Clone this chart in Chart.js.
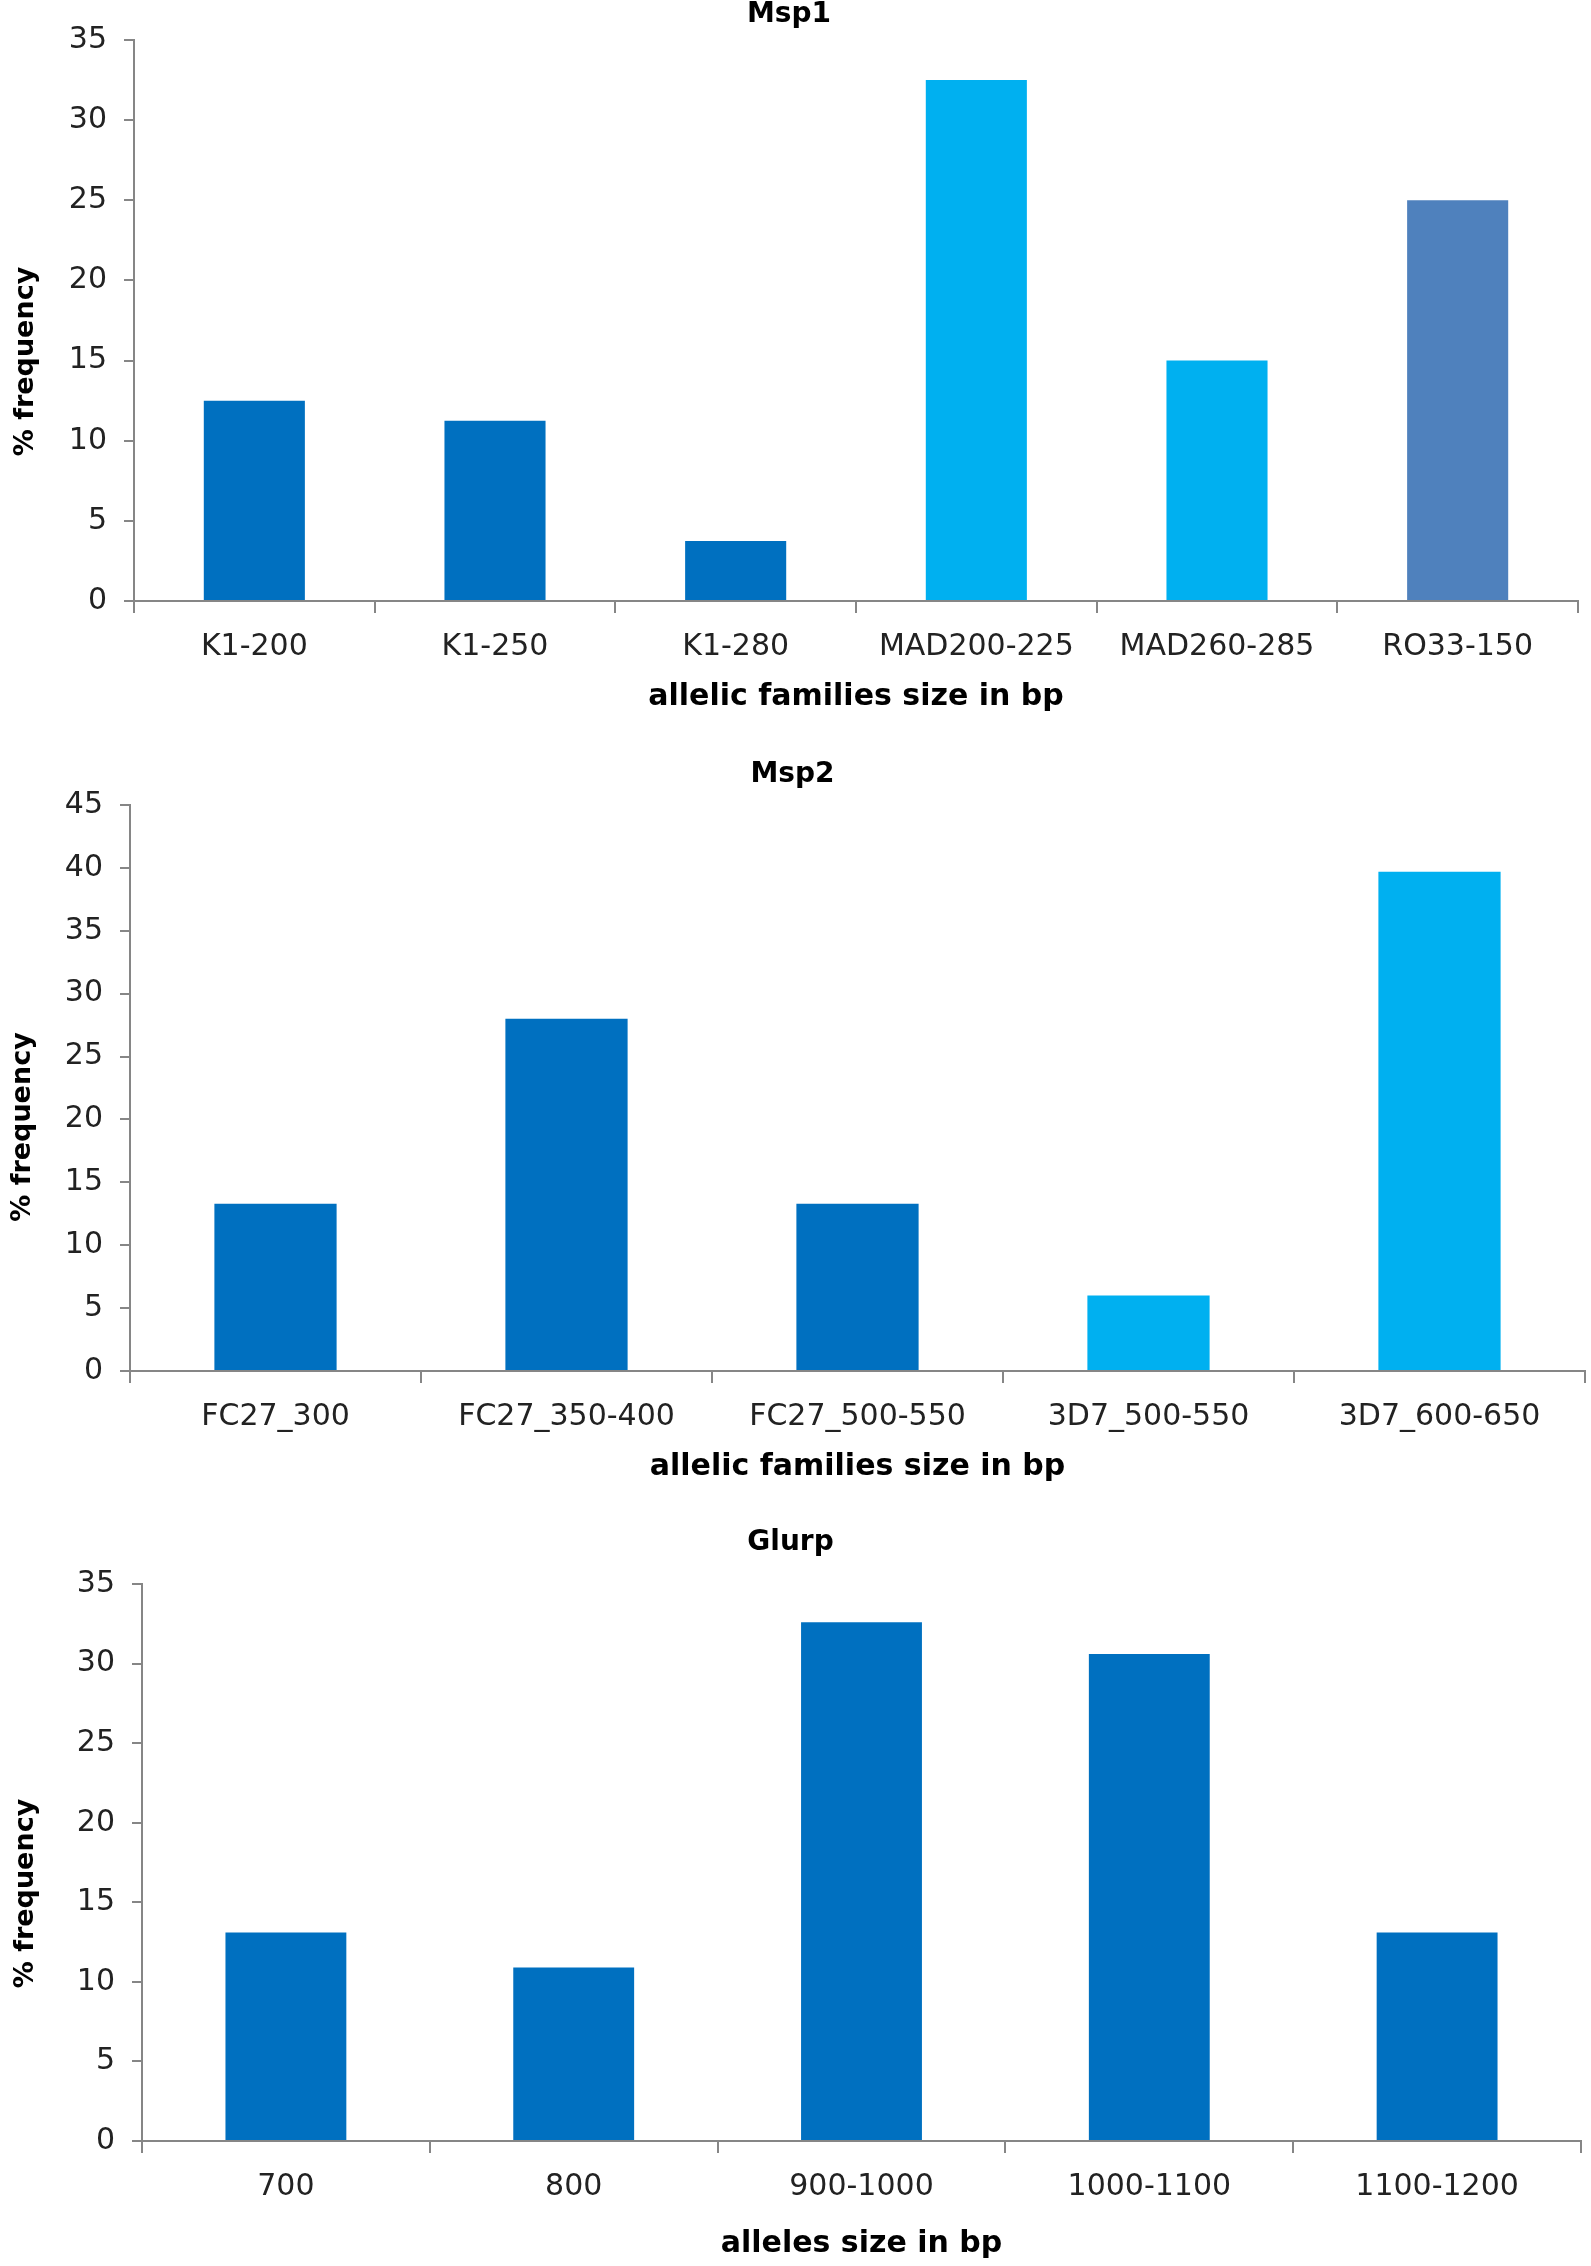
<!DOCTYPE html>
<html>
<head>
<meta charset="utf-8">
<script src="https://cdn.jsdelivr.net/npm/chart.js@4/dist/chart.umd.min.js"></script>
<style>
  html, body { margin: 0; padding: 0; background: #fff; }
  body { width: 1591px; height: 2266px; position: relative; overflow: hidden; }
  canvas { position: absolute; left: 0; }
</style>
</head>
<body>
<canvas id="msp1" width="1591" height="733" style="top:-2px"></canvas>
<canvas id="msp2" width="1591" height="743" style="top:758px"></canvas>
<canvas id="glurp" width="1591" height="740" style="top:1526px"></canvas>
<script>
const msp1Labels = ['K1-200', 'K1-250', 'K1-280', 'MAD200-225', 'MAD260-285', 'RO33-150'];
const msp1Values = [12.5, 11.25, 3.75, 32.5, 15, 25];

const msp2Labels = ['FC27_300', 'FC27_350-400', 'FC27_500-550', '3D7_500-550', '3D7_600-650'];
const msp2Values = [13.3, 28, 13.3, 6, 39.7];

const glurpLabels = ['700', '800', '900-1000', '1000-1100', '1100-1200'];
const glurpValues = [13.1, 10.9, 32.6, 30.6, 13.1];

// bar colours (K1 / FC27 dark, MAD / 3D7 light, RO33 steel)
const dark = '#0070C0', light = '#00B0F0', steel = '#4F81BD';
const msp1Colors = [dark, dark, dark, light, light, steel];
const msp2Colors = [dark, dark, dark, light, light];
const glurpColors = [dark, dark, dark, dark, dark];

const axisGray = '#868686';
const font = 'DejaVu Sans';

// y axis title, drawn a bit below the middle of the plot like the original
const yTitlePlugin = {
    id: 'yTitle',
    afterDraw(chart, args, opts) {
        const ctx = chart.ctx;
        const a = chart.chartArea;
        ctx.save();
        ctx.translate(opts.x, (a.top + a.bottom) / 2 + opts.shift);
        ctx.rotate(-Math.PI / 2);
        ctx.font = 'bold 27px "' + font + '"';
        ctx.fillStyle = '#000';
        ctx.textAlign = 'center';
        ctx.textBaseline = 'middle';
        ctx.fillText('% frequency', 0, 0);
        ctx.restore();
    }
};

function makeChart(id, o) {
    return new Chart(document.getElementById(id), {
        type: 'bar',
        data: {
            labels: o.labels,
            datasets: [{
                data: o.values,
                backgroundColor: o.colors,
                borderWidth: 0,
                barPercentage: 0.42,
                categoryPercentage: 1
            }]
        },
        plugins: [yTitlePlugin],
        options: {
            responsive: false,
            animation: false,
            devicePixelRatio: 1,
            layout: { padding: { left: 0, right: o.right, top: 0, bottom: 0 } },
            plugins: {
                legend: { display: false },
                tooltip: { enabled: false },
                yTitle: { x: o.yTitleX, shift: o.yTitleShift },
                title: {
                    display: true,
                    text: o.title,
                    color: '#000',
                    font: { family: font, size: 28, weight: 'bold' },
                    padding: { top: 0, bottom: o.titleGap }
                }
            },
            scales: {
                x: {
                    grid: { display: true, drawOnChartArea: false, drawTicks: true, tickLength: 12, color: axisGray, lineWidth: 2 },
                    border: { display: true, color: axisGray, width: 2 },
                    ticks: { color: '#222', font: { family: font, size: 30 }, padding: 16, maxRotation: 0, autoSkip: false },
                    title: {
                        display: true,
                        text: o.xTitle,
                        color: '#000',
                        font: { family: font, size: 30, weight: 'bold' },
                        padding: { top: 0, bottom: o.xTitlePad }
                    },
                    afterFit: (s) => { s.height = o.xHeight; }
                },
                y: {
                    min: 0,
                    max: o.max,
                    grid: { display: true, drawOnChartArea: false, drawTicks: true, tickLength: 10, color: axisGray, lineWidth: 2 },
                    border: { display: true, color: axisGray, width: 2 },
                    ticks: { stepSize: 5, color: '#222', font: { family: font, size: 30 }, padding: 17 },
                    afterFit: (s) => { s.width = o.yWidth; }
                }
            }
        }
    });
}

makeChart('msp1', {
    labels: msp1Labels, values: msp1Values, colors: msp1Colors,
    title: 'Msp1', titleGap: 8.4, max: 35,
    xTitle: 'allelic families size in bp', xTitlePad: 16, xHeight: 130,
    yWidth: 134, yTitleX: 26, yTitleShift: 41, right: 13
});

makeChart('msp2', {
    labels: msp2Labels, values: msp2Values, colors: msp2Colors,
    title: 'Msp2', titleGap: 13.4, max: 45,
    xTitle: 'allelic families size in bp', xTitlePad: 16, xHeight: 130,
    yWidth: 130, yTitleX: 23, yTitleShift: 39, right: 6
});

makeChart('glurp', {
    labels: glurpLabels, values: glurpValues, colors: glurpColors,
    title: 'Glurp', titleGap: 24.4, max: 35,
    xTitle: 'alleles size in bp', xTitlePad: 4, xHeight: 125,
    yWidth: 142, yTitleX: 26, yTitleShift: 31, right: 10
});
</script>
</body>
</html>
